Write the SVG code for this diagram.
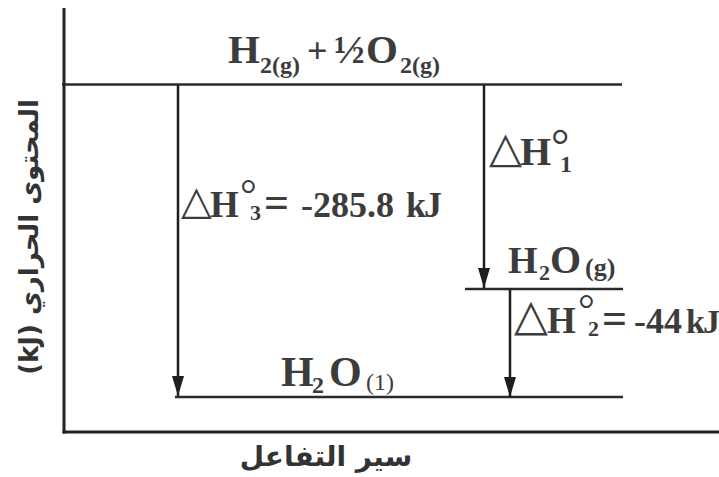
<svg xmlns="http://www.w3.org/2000/svg" width="719" height="477" viewBox="0 0 719 477">
<style>
.ax{stroke:#222;stroke-width:3;fill:none}
.lv{stroke:#2a2a2a;stroke-width:2.5;fill:none}
.ar{stroke:#1e1e1e;stroke-width:2.5;fill:none;marker-end:url(#ah)}
.ch{font-family:"Liberation Serif","Times New Roman",serif;font-weight:bold;fill:#3c3c3c}
.dl{font-family:"DejaVu Sans",sans-serif;font-weight:200}
.dg{font-family:"Liberation Serif",serif;font-weight:normal}
.ab{font-family:"DejaVu Sans","Noto Sans",sans-serif;font-weight:bold;fill:#333}
</style>
<defs>
<marker id="ah" markerUnits="userSpaceOnUse" markerWidth="22" markerHeight="14" refX="20" refY="6" orient="auto">
<path d="M0,0 L20,6 L0,12 z" fill="#1e1e1e"/>
</marker>
</defs>
<g id="axes">
<line class="ax" x1="64" y1="8" x2="64" y2="433.5"/>
<line class="ax" x1="62.5" y1="432" x2="719" y2="432"/>
</g>
<g id="level-reactants">
<line class="lv" x1="62" y1="84.5" x2="622" y2="84.5"/>
<text class="ch"><tspan x="228" y="63" font-size="41">H</tspan><tspan x="260" y="73" font-size="24">2(g)</tspan><tspan x="307" y="63" font-size="36">+</tspan><tspan x="334" y="63" font-size="41">½</tspan><tspan x="366" y="63" font-size="41">O</tspan><tspan x="400" y="73" font-size="24">2(g)</tspan></text>
</g>
<g id="level-h2o-g">
<line class="lv" x1="465" y1="289" x2="623" y2="289"/>
<text class="ch"><tspan x="508" y="273" font-size="38">H</tspan><tspan x="539" y="280" font-size="22">2</tspan><tspan x="550" y="273" font-size="40">O</tspan><tspan x="585" y="276" font-size="26">(g)</tspan></text>
</g>
<g id="level-h2o-l">
<line class="lv" x1="175" y1="397" x2="623" y2="397"/>
<text class="ch"><tspan x="281" y="386" font-size="42">H</tspan><tspan x="312" y="393" font-size="24">2</tspan><tspan x="329" y="386" font-size="42">O</tspan><tspan class="dg" x="366" y="390" font-size="24">(1)</tspan></text>
</g>
<g id="connectors">
<line class="ar" x1="178" y1="85" x2="178" y2="396"/>
<line class="ar" x1="484" y1="85" x2="484" y2="288"/>
<line class="ar" x1="510" y1="289" x2="510" y2="397"/>
</g>
<g id="label-dh3">
<text class="ch"><tspan class="dl" x="181" y="214" font-size="40">△</tspan><tspan x="210" y="217" font-size="37">H</tspan><tspan class="dg" x="240" y="208" font-size="42">°</tspan><tspan x="250" y="220" font-size="22">3</tspan><tspan x="264" y="217" font-size="44">=</tspan><tspan x="301" y="217" font-size="36">-285.8</tspan><tspan x="406" y="217" font-size="36" letter-spacing="-2">kJ</tspan></text>
</g>
<g id="label-dh1">
<text class="ch"><tspan class="dl" x="489" y="162" font-size="43">△</tspan><tspan x="520" y="165" font-size="40">H</tspan><tspan class="dg" x="551" y="161" font-size="46">°</tspan><tspan x="560" y="172" font-size="24">1</tspan></text>
</g>
<g id="label-dh2">
<text class="ch"><tspan class="dl" x="514" y="330" font-size="44">△</tspan><tspan x="547" y="333" font-size="37">H</tspan><tspan class="dg" x="578" y="323" font-size="42">°</tspan><tspan x="588" y="336" font-size="22">2</tspan><tspan x="602" y="333" font-size="44">=</tspan><tspan x="634" y="333" font-size="36">-44</tspan><tspan x="686" y="333" font-size="34" letter-spacing="-2">kJ</tspan></text>
</g>
<g id="axis-labels">
<text class="ab" transform="translate(38,237) rotate(-90)" text-anchor="middle" direction="rtl" font-size="26">المحتوى الحراري (kJ)</text>
<text class="ab" x="326" y="466" text-anchor="middle" direction="rtl" font-size="28">سير التفاعل</text>
</g>
</svg>
